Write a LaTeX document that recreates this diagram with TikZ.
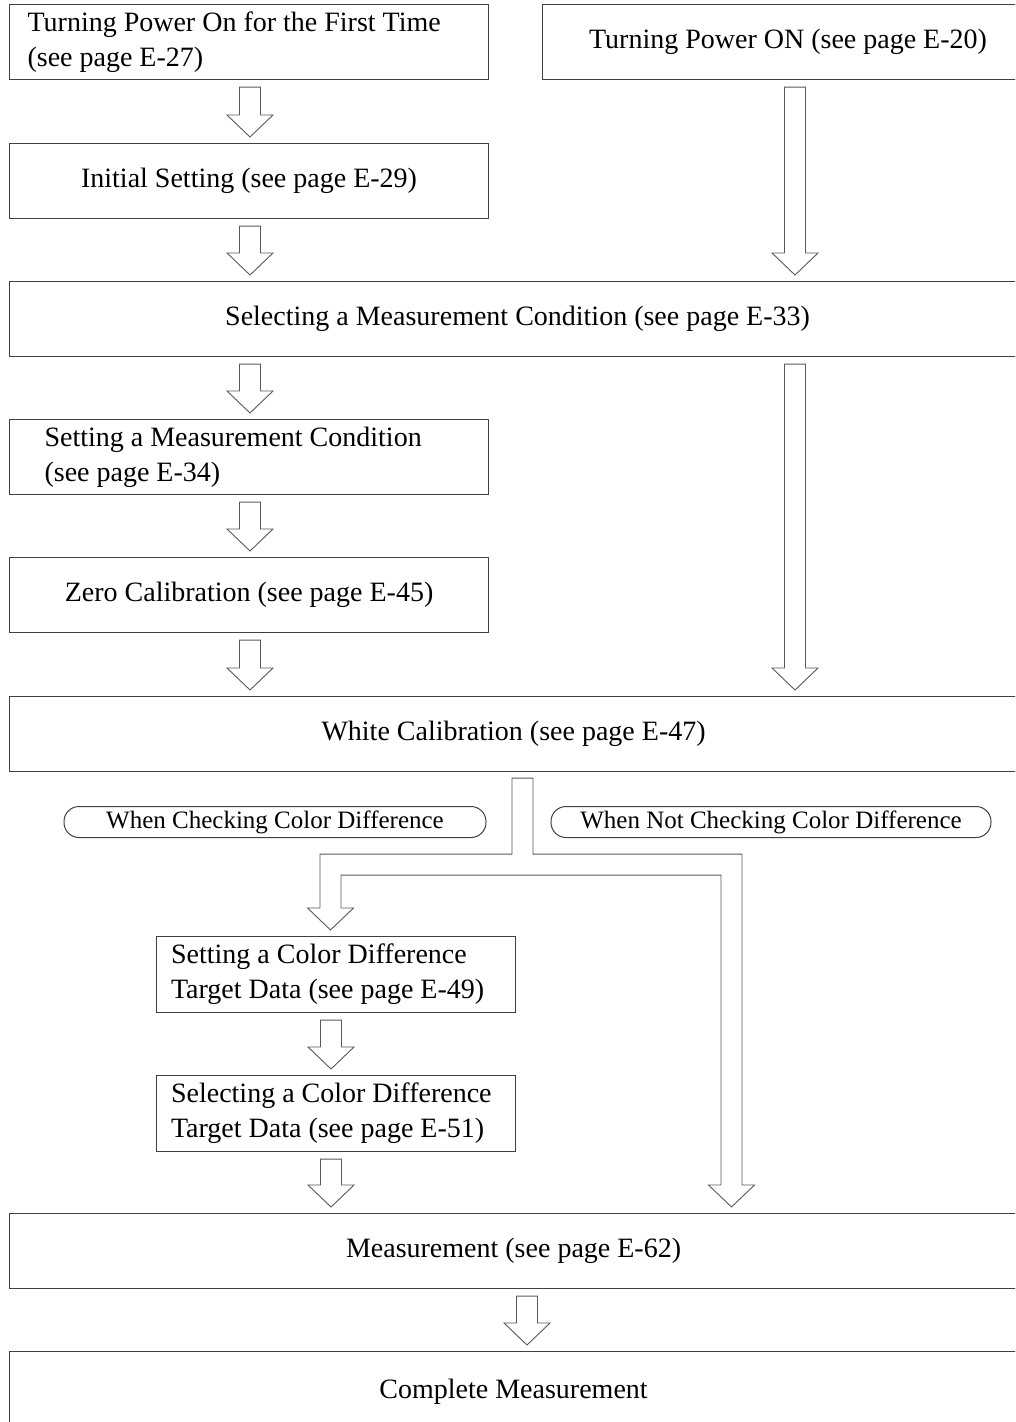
\documentclass[tikz,border=0pt]{standalone}
\usepackage{fontspec}
\setmainfont{Liberation Serif}
\usetikzlibrary{calc}

\tikzset{
  stepbox/.style={draw=black!75, line width=1.1pt, anchor=north west,
                  minimum height=75pt, inner sep=0pt,
                  font=\fontsize{28}{35}\selectfont},
  narrowbox/.style={stepbox, minimum width=479pt},
  widebox/.style={stepbox, minimum width=1008pt},
  cdbox/.style={stepbox, minimum width=359pt, minimum height=76pt,
                align=flush left, text width=330pt},
  casepill/.style={draw=black!75, line width=1pt, rounded corners=15pt,
                   minimum height=31pt, inner sep=0pt,
                   font=\fontsize{25}{30}\selectfont},
  fat/.style={draw=black!65, line width=0.9pt, fill=white},
}

% hollow block arrow: #1 = x of the shaft, from node #2 down to node #3
\newcommand{\fatarrow}[3]{%
  \draw[fat] let \p1=(#2.south), \p2=(#3.north) in
    (#1pt-10.5pt,\y1-7pt) -- (#1pt-10.5pt,\y2+28pt) -- (#1pt-23pt,\y2+28pt)
    -- (#1pt,\y2+6pt) -- (#1pt+23pt,\y2+28pt) -- (#1pt+10.5pt,\y2+28pt)
    -- (#1pt+10.5pt,\y1-7pt) -- cycle;}

\begin{document}
\begin{tikzpicture}[x=1pt, y=-1pt]
  \clip (0,0) rectangle (1015,1422);

  % steps
  \node[narrowbox, align=flush left, text width=443pt] (first) at (9,4)
    {Turning Power On for the First Time\\(see page E-27)};
  \node[stepbox, minimum width=491pt] (poweron) at (542,4)
    {Turning Power ON (see page E-20)};
  \node[narrowbox] (init) at (9,143) {Initial Setting (see page E-29)};
  \node[widebox, minimum width=1016pt] (select) at (9,281)
    {Selecting a Measurement Condition (see page E-33)};
  \node[narrowbox, align=flush left, text width=409pt] (setting) at (9,419)
    {Setting a Measurement Condition\\(see page E-34)};
  \node[narrowbox] (zero) at (9,557) {Zero Calibration (see page E-45)};
  \node[widebox] (white) at (9,696) {White Calibration (see page E-47)};
  \node[cdbox] (colset) at (156,936)
    {Setting a Color Difference\\Target Data (see page E-49)};
  \node[cdbox] (colsel) at (156,1075)
    {Selecting a Color Difference\\Target Data (see page E-51)};
  \node[widebox] (meas) at (9,1213) {Measurement (see page E-62)};
  \node[widebox, minimum height=110pt, text depth=36pt] (complete) at (9,1351)
    {Complete Measurement};

  % the two cases
  \node[casepill, minimum width=422pt] (withcd) at (275,822)
    {When Checking Color Difference};
  \node[casepill, minimum width=440pt] (withoutcd) at (771,822)
    {When Not Checking Color Difference};

  % arrows
  \fatarrow{250}{first}{init}
  \fatarrow{250}{init}{select}
  \fatarrow{795}{poweron}{select}
  \fatarrow{250}{select}{setting}
  \fatarrow{795}{select}{white}
  \fatarrow{250}{setting}{zero}
  \fatarrow{250}{zero}{white}
  \fatarrow{331}{colset}{colsel}
  \fatarrow{331}{colsel}{meas}
  \fatarrow{527}{meas}{complete}

  % branch below white calibration
  \draw[fat] let \p1=(white.south), \p2=(colset.north), \p3=(meas.north) in
    (512pt,\y1-6pt) -- (533pt,\y1-6pt) -- (533pt,\y1-82pt) -- (742pt,\y1-82pt)
    -- (742pt,\y3+28pt) -- (754.5pt,\y3+28pt) -- (731.5pt,\y3+6pt)
    -- (708.5pt,\y3+28pt) -- (721pt,\y3+28pt) -- (721pt,\y1-103pt)
    -- (341pt,\y1-103pt) -- (341pt,\y2+28pt) -- (353.5pt,\y2+28pt)
    -- (330.5pt,\y2+6pt) -- (307.5pt,\y2+28pt) -- (320pt,\y2+28pt)
    -- (320pt,\y1-82pt) -- (512pt,\y1-82pt) -- cycle;
\end{tikzpicture}
\end{document}
